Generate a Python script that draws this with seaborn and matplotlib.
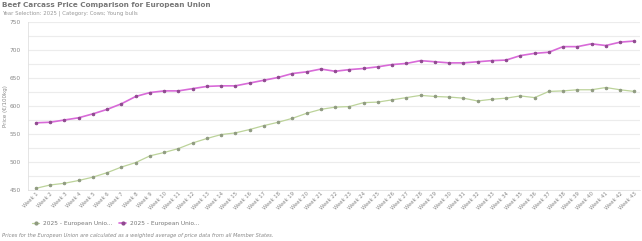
import numpy as np
import pandas as pd
import matplotlib
matplotlib.use("Agg")
import matplotlib.pyplot as plt
from matplotlib.ticker import MultipleLocator
from matplotlib.lines import Line2D
import seaborn as sns

weeks = [f"Week {i}" for i in range(1, 44)]
cows_2025 = [453, 459, 462, 467, 473, 481, 491, 499, 511, 517, 524, 534, 542, 549, 552,
             558, 565, 571, 578, 587, 594, 598, 599, 606, 607, 611, 615, 619, 617, 616,
             614, 609, 612, 614, 618, 615, 626, 627, 629, 629, 633, 629, 626]
bulls_2025 = [570, 571, 575, 579, 586, 594, 604, 617, 624, 627, 627, 631, 635, 636, 636,
              641, 646, 651, 658, 661, 666, 662, 665, 667, 670, 674, 676, 681, 679, 677,
              677, 679, 681, 682, 690, 694, 696, 706, 706, 711, 708, 714, 716]
series_names = ["2025 - European Unio...", "2025 - European Unio..."]
title = "Beef Carcass Price Comparison for European Union"
subtitle = "Year Selection: 2025 | Category: Cows; Young bulls"
footnote = "Prices for the European Union are calculated as a weighted average of price data from all Member States."

sns.set_theme(style="white")
plt.rcParams['font.family'] = ['DejaVu Sans']

fig = plt.figure(figsize=(6.42, 2.41), dpi=100)
ax = fig.add_axes([28/642, 1-190/241, 612/642, 168/241])

xpos = np.arange(1, len(weeks) + 1)
green_line, green_mk = "#bcd39a", "#8f9a80"
pink_line, pink_mk = "#d86ad8", "#8e4a8e"

df1 = pd.DataFrame({"x": xpos, "y": cows_2025})
df2 = pd.DataFrame({"x": xpos, "y": bulls_2025})
sns.lineplot(data=df1, x="x", y="y", ax=ax, color=green_line, lw=0.9,
             marker="o", markersize=1.8, markerfacecolor=green_mk, markeredgecolor=green_mk)
sns.lineplot(data=df2, x="x", y="y", ax=ax, color=pink_line, lw=1.2,
             marker="o", markersize=1.8, markerfacecolor=pink_mk, markeredgecolor=pink_mk)

ax.set_ylim(450, 750)
ax.set_xlim(0.44, 43.4)
ax.yaxis.set_major_locator(MultipleLocator(50))
ax.yaxis.set_minor_locator(MultipleLocator(25))
ax.grid(True, which="both", axis="y", color="#ececec", lw=0.8)
ax.set_axisbelow(True)
ax.set_xticks(xpos)
ax.set_xticklabels(weeks, rotation=45, ha="right", rotation_mode="anchor",
                   fontsize=3.8, color="#888888")
ax.tick_params(axis="y", labelsize=4.2, labelcolor="#888888", length=0, pad=5)
ax.tick_params(axis="x", length=0, pad=1)
ax.tick_params(which="minor", length=0)
for s in ["top", "right"]:
    ax.spines[s].set_visible(False)
ax.spines["left"].set_color("#e0e0e0")
ax.spines["left"].set_linewidth(0.6)
ax.spines["bottom"].set_color("#e0e0e0")
ax.spines["bottom"].set_linewidth(0.6)
ax.set_xlabel("")
ax.set_ylabel("Price (€/100kg)", fontsize=4, color="#888888")
ax.yaxis.set_label_coords(-20/612, 0.5)

fig.text(2/642, 1-5/241, title, fontsize=5.2, fontweight="bold", color="#777777", va="center")
fig.text(2/642, 1-13.5/241, subtitle, fontsize=3.9, color="#999999", va="center")
fig.text(2/642, 1-236/241, footnote, fontsize=3.7, style="italic", color="#888888", va="center")

handles = [Line2D([], [], color=green_line, lw=0.9, marker="o", markersize=2,
                  markerfacecolor=green_mk, markeredgecolor=green_mk),
           Line2D([], [], color=pink_line, lw=1.2, marker="o", markersize=2,
                  markerfacecolor=pink_mk, markeredgecolor=pink_mk)]
fig.legend(handles, series_names, loc="center left", bbox_to_anchor=(30/642, 1-223/241),
           ncol=2, frameon=False, fontsize=4.2, labelcolor="#777777",
           handlelength=1.2, columnspacing=1.2, handletextpad=0.6, borderaxespad=0)

fig.savefig("out.png", dpi=100)
